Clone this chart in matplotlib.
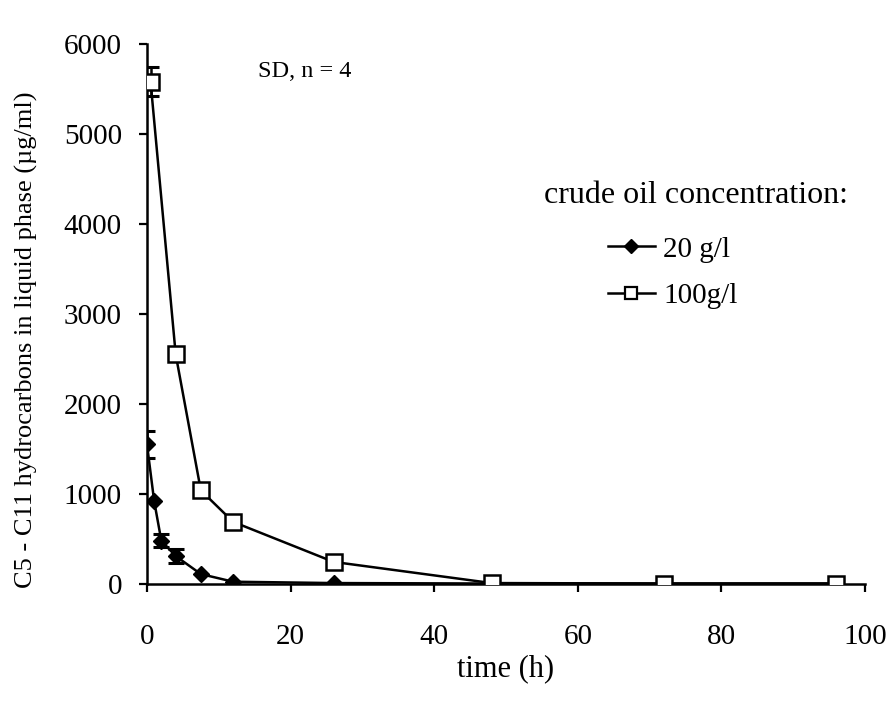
import matplotlib
matplotlib.use("Agg")
import matplotlib.pyplot as plt
from matplotlib.lines import Line2D

# time (h) and concentrations (ug/ml)
t_20 = [0, 1, 2, 4, 7.5, 12, 26, 48, 72, 96]
c_20 = [1550, 920, 480, 310, 110, 25, 10, 5, 5, 5]
sd_20 = [150, 0, 70, 80, 0, 0, 0, 0, 0, 0]

t_100 = [0.5, 4, 7.5, 12, 26, 48, 72, 96]
c_100 = [5580, 2550, 1040, 690, 245, 10, 5, 5]
sd_100 = [160, 0, 0, 0, 0, 0, 0, 0]

plt.rcParams['font.family'] = ['Liberation Serif', 'DejaVu Serif']
plt.rcParams['font.size'] = 21

fig = plt.figure(figsize=(8.93, 7.04), dpi=100)
ax = fig.add_axes([0.1646, 0.1705, 0.804, 0.767])

ax.plot(t_20, c_20, color='black', marker='D', markersize=8, linewidth=1.8, zorder=4)
ax.plot(t_100, c_100, color='black', marker='s', markersize=11, markerfacecolor='white',
        markeredgewidth=1.8, linewidth=1.8, zorder=5)

# error bars only where SD is visible
for t, c, sd in [(t_20, c_20, sd_20), (t_100, c_100, sd_100)]:
    idx = [i for i in range(len(t)) if sd[i] > 0]
    ax.errorbar([t[i] for i in idx], [c[i] for i in idx], yerr=[sd[i] for i in idx],
                fmt='none', ecolor='black', elinewidth=1.8, capsize=5.5, capthick=2.2, zorder=3)

ax.set_xlim(0, 100)
ax.set_ylim(0, 6000)
ax.set_xticks([0, 20, 40, 60, 80, 100])
ax.set_yticks([0, 1000, 2000, 3000, 4000, 5000, 6000])
ax.spines['top'].set_visible(False)
ax.spines['right'].set_visible(False)
ax.spines['left'].set_linewidth(1.8)
ax.spines['bottom'].set_linewidth(1.8)
ax.tick_params(direction='out', length=6, width=1.6)
ax.tick_params(axis='x', pad=23)
ax.tick_params(axis='y', pad=12)

ax.set_xlabel('time (h)', fontsize=22)
ax.xaxis.set_label_coords(0.499, -0.13)
ax.set_ylabel('C5 - C11 hydrocarbons in liquid phase (\u00b5g/ml)', fontsize=19)
ax.yaxis.set_label_coords(-0.152, 0.452)

ax.text(15.5, 5690, 'SD, n = 4', va='center', ha='left', fontsize=17.5)

ax.text(0.976, 0.72, 'crude oil concentration:', transform=ax.transAxes,
        ha='right', va='center', fontsize=23)
handles = [
    Line2D([], [], color='black', marker='D', markersize=7, linewidth=1.8),
    Line2D([], [], color='black', marker='s', markersize=9, markerfacecolor='white',
           markeredgewidth=1.6, linewidth=1.8),
]
ax.legend(handles, ['20 g/l', '100g/l'], frameon=False,
          loc='upper left', bbox_to_anchor=(0.642, 0.644), borderaxespad=0, borderpad=0,
          handlelength=1.6, handletextpad=0.3, labelspacing=0.7, fontsize=21)

fig.savefig('out.png', dpi=100)
